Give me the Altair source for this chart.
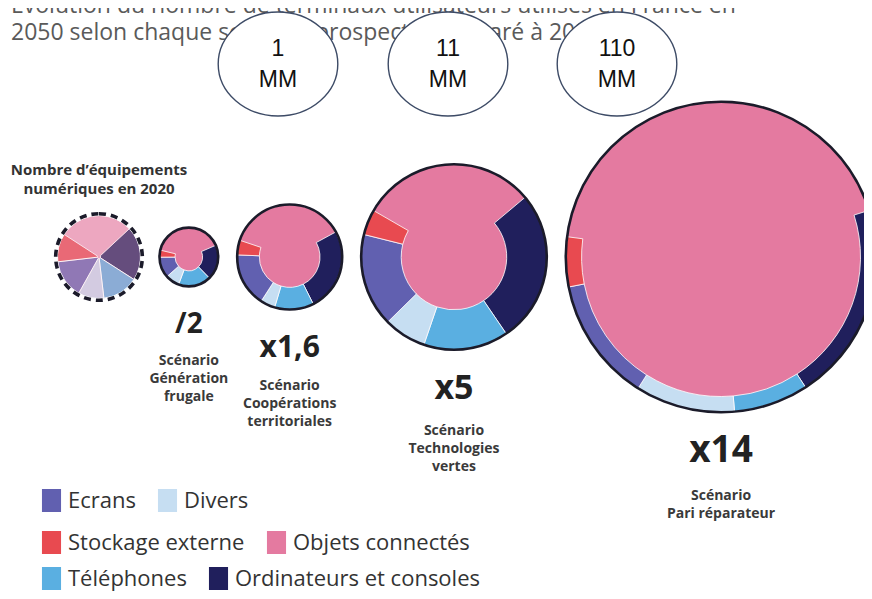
import math
import pandas as pd
import altair as alt

# ---------------- data ----------------
categories = ["Ecrans", "Divers", "Stockage externe", "Objets connectés",
              "Téléphones", "Ordinateurs et consoles"]
colors = ["#6160b0", "#c6def2", "#e84a50", "#e47aa0", "#5aafe1", "#201f5c"]

scenarios = ["2020", "Génération frugale", "Coopérations territoriales",
             "Technologies vertes", "Pari réparateur"]
multipliers = [1, 0.5, 1.6, 5, 14]
mult_labels = ["", "/2", "x1,6", "x5", "x14"]
scenario_names = ["", "Scénario\nGénération\nfrugale",
                  "Scénario\nCoopérations\nterritoriales",
                  "Scénario\nTechnologies\nvertes",
                  "Scénario\nPari réparateur"]

# share (%) of each family in every circle
share_objets = [29, 53, 58, 53, 89]
share_ordinateurs = [21, 15, 17, 18, 4]
share_telephones = [14, 14, 8, 10, 1.5]
share_divers = [10, 6, 3, 5, 2]
share_ecrans = [15, 9, 11, 11, 2.5]
share_stockage = [11, 3, 3, 3, 1]

mm_values = ["1", "11", "110"]

title_text = ("Évolution du nombre de terminaux utilisateurs utilisés en France en\n"
              "2050 selon chaque scénario prospectif comparé à 2020")
note_2020 = "Nombre d’équipements\nnumériques en 2020"

# ---------------- layout / style ----------------
W, H = 856, 583
PX_PER_UNIT = 41.5          # radius of the 2020 circle
GAP = 19
X0, CY = 91, 249
label_sizes = [0, 28, 30, 34, 37]
band_span_deg = [256, 217, 227, 250, 205]   # angular extent of the non-"objets" band
BAND_CENTER_DEG = 175

radii = [PX_PER_UNIT * math.sqrt(m) for m in multipliers]
cxs = [X0]
for i in range(1, len(multipliers)):
    cxs.append(cxs[-1] + radii[i - 1] + radii[i] + GAP)

band_order = ["Ordinateurs et consoles", "Téléphones", "Divers", "Ecrans",
              "Stockage externe"]
share_lists = {
    "Objets connectés": share_objets,
    "Ordinateurs et consoles": share_ordinateurs,
    "Téléphones": share_telephones,
    "Divers": share_divers,
    "Ecrans": share_ecrans,
    "Stockage externe": share_stockage,
}

rows = []
for i, sc in enumerate(scenarios):
    total = sum(share_lists[c][i] for c in share_lists)
    s_band = sum(share_lists[c][i] for c in band_order) / total
    span = band_span_deg[i] / 360.0
    rho2 = max(0.0, 1 - s_band / span)
    rows.append(dict(scenario=sc, cat="Objets connectés", m=multipliers[i],
                     m_in=0.0, start=0.0, end=1.0, cx=cxs[i], cy=CY,
                     first=(i == 0), order=0))
    acc = BAND_CENTER_DEG / 360.0 - span / 2
    for k, c in enumerate(band_order):
        frac = share_lists[c][i] / total / s_band * span
        rows.append(dict(scenario=sc, cat=c, m=multipliers[i],
                         m_in=rho2 * multipliers[i], start=acc, end=acc + frac,
                         cx=cxs[i], cy=CY, first=(i == 0), order=k + 1))
        acc += frac
arc_df = pd.DataFrame(rows)

circ_df = pd.DataFrame(dict(scenario=scenarios, m=multipliers, cx=cxs,
                            cy=[CY] * len(scenarios),
                            first=[i == 0 for i in range(len(scenarios))]))

lab_rows = []
for i in range(1, len(scenarios)):
    my = CY + radii[i] + 39
    lab_rows.append(dict(cx=cxs[i], my=my, mult=mult_labels[i], fs=label_sizes[i],
                         ny=my + label_sizes[i] + 12, name=scenario_names[i]))
lab_df = pd.DataFrame(lab_rows)

xs = alt.Scale(domain=[0, W], range=[0, W])
ys = alt.Scale(domain=[0, H], range=[0, H])
rs = alt.Scale(type="sqrt", domain=[0, 14], range=[0, PX_PER_UNIT * math.sqrt(14)])
ts = alt.Scale(domain=[0, 1], range=[0, 2 * math.pi])
cs = alt.Scale(domain=categories, range=colors)

base_enc = dict(
    x=alt.X("cx:Q", scale=xs, axis=None),
    y=alt.Y("cy:Q", scale=ys, axis=None),
    theta=alt.Theta("start:Q", scale=ts, stack=None),
    theta2="end:Q",
    radius=alt.Radius("m:Q", scale=rs, stack=None),
    radius2="m_in:Q",
    color=alt.Color("cat:N", scale=cs, legend=None),
    order=alt.Order("order:Q"),
)

arcs_2020 = alt.Chart(arc_df).transform_filter("datum.first").mark_arc(
    stroke="white", strokeWidth=1, opacity=0.66).encode(**base_enc)
arcs_sc = alt.Chart(arc_df).transform_filter("!datum.first").mark_arc(
    stroke="white", strokeWidth=0.8).encode(**base_enc)

circ_enc = dict(
    x=alt.X("cx:Q", scale=xs, axis=None),
    y=alt.Y("cy:Q", scale=ys, axis=None),
    radius=alt.Radius("m:Q", scale=rs, stack=None),
    theta=alt.value(0), theta2=alt.value(2 * math.pi),
)
outline_sc = alt.Chart(circ_df).transform_filter("!datum.first").mark_arc(
    fillOpacity=0, stroke="#1b1b2a", strokeWidth=2.6).encode(**circ_enc)
outline_2020 = alt.Chart(circ_df).transform_filter("datum.first").mark_arc(
    fillOpacity=0, stroke="#1b1b2a", strokeWidth=3.6, strokeDash=[7, 5],
    radiusOffset=1.8).encode(**circ_enc)

mult_text = alt.Chart(lab_df).mark_text(
    font="Open Sans", fontWeight="bold", color="#222222", baseline="middle",
    align="center").encode(
    x=alt.X("cx:Q", scale=xs), y=alt.Y("my:Q", scale=ys),
    text="mult:N", size=alt.Size("fs:Q", scale=None))

name_text = alt.Chart(lab_df).mark_text(
    font="Open Sans", fontWeight="bold", color="#3a3a3a", fontSize=14,
    lineBreak="\n", lineHeight=18, baseline="alphabetic", align="center").encode(
    x=alt.X("cx:Q", scale=xs), y=alt.Y("ny:Q", scale=ys), text="name:N")

note_df = pd.DataFrame(dict(cx=[cxs[0]], ny=[CY - radii[0] - 41], t=[note_2020]))
note_text = alt.Chart(note_df).mark_text(
    font="Open Sans", fontWeight="bold", color="#333333", fontSize=15,
    lineBreak="\n", lineHeight=19, baseline="alphabetic", align="center").encode(
    x=alt.X("cx:Q", scale=xs), y=alt.Y("ny:Q", scale=ys), text="t:N")

title_df = pd.DataFrame(dict(t=[title_text]))
title_mark = alt.Chart(title_df).mark_text(
    font="Open Sans", fontSize=23, color="#5a5a5a", lineBreak="\n",
    lineHeight=27, align="left", baseline="alphabetic").encode(
    x=alt.value(3), y=alt.value(5), text="t:N")

# annotation ovals at the top
ELL_Y = 56
ell_df = pd.DataFrame(dict(ex=[270, 440, 609], ey=[ELL_Y] * 3,
                           ty=[ELL_Y - 15.5] * 3,
                           t=[v + "\nMM" for v in mm_values]))
ellipse_path = "M-1.15,0A1.15,1,0,1,0,1.15,0A1.15,1,0,1,0,-1.15,0Z"
ellipses = alt.Chart(ell_df).mark_point(
    shape=ellipse_path, size=10816, filled=True, fill="white", opacity=1,
    stroke="#3d4b66", strokeWidth=1.4).encode(
    x=alt.X("ex:Q", scale=xs), y=alt.Y("ey:Q", scale=ys))
ell_text = alt.Chart(ell_df).mark_text(
    font="Liberation Sans", fontSize=23, color="#111111", lineBreak="\n",
    lineHeight=31, baseline="middle", align="center").encode(
    x=alt.X("ex:Q", scale=xs), y=alt.Y("ty:Q", scale=ys), text="t:N")

# legend: three flowing rows
legend_y = [481, 523, 559]
legend_layers = []
for j in range(3):
    row_cats = categories[2 * j: 2 * j + 2]
    row_cols = colors[2 * j: 2 * j + 2]
    lg = alt.Legend(
        title=None, orient="none", legendX=32, legendY=legend_y[j],
        direction="horizontal", symbolType="M-0.83,-1H0.83V1H-0.83Z",
        symbolSize=529, symbolStrokeWidth=0, symbolOpacity=1,
        labelFont="Open Sans", labelFontSize=22, labelColor="#333333",
        labelOffset=5, labelLimit=400, columnPadding=20, padding=0,
    )
    legend_layers.append(
        alt.Chart(pd.DataFrame({"cat": row_cats})).mark_square(opacity=0).encode(
            x=alt.value(0), y=alt.value(0),
            color=alt.Color("cat:N", scale=alt.Scale(domain=row_cats, range=row_cols),
                            legend=lg)))

chart = alt.layer(
    title_mark, arcs_2020, arcs_sc, outline_sc, outline_2020,
    mult_text, name_text, note_text, ellipses, ell_text, *legend_layers,
).resolve_scale(color="independent").properties(
    width=W, height=H, padding=0, autosize=alt.AutoSizeParams(type="none"),
    background="white",
).configure_view(stroke=None)

chart.save("out.html", embed_options={"renderer": "svg", "actions": False})
